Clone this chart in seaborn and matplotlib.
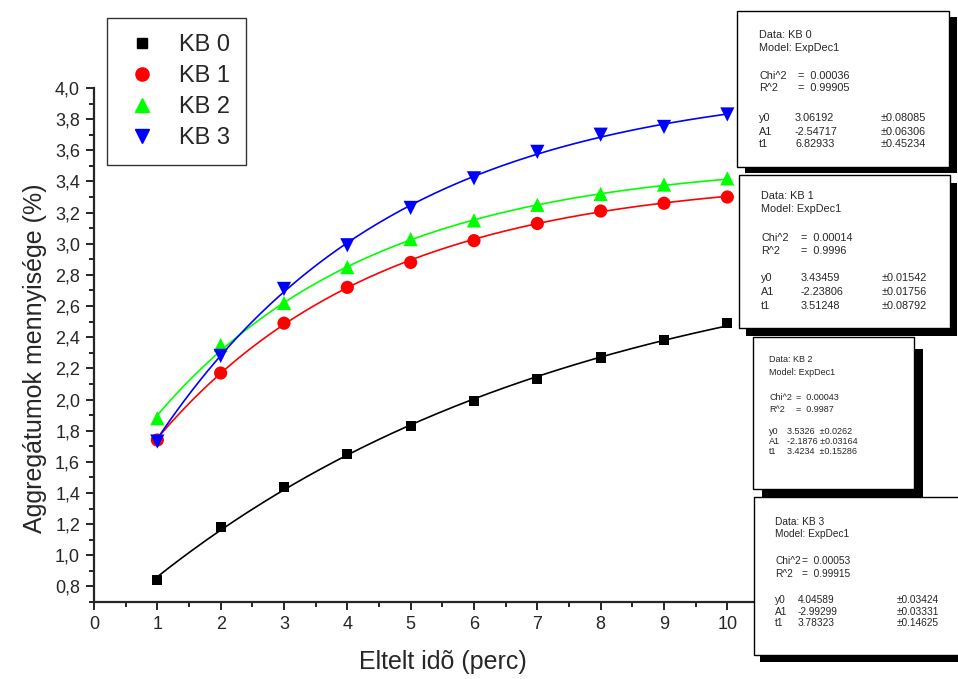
import numpy as np
import pandas as pd
import seaborn as sns
import matplotlib.pyplot as plt
from matplotlib.patches import Rectangle
from matplotlib.lines import Line2D
from matplotlib.ticker import MultipleLocator, FuncFormatter

# measured values
perc = [1, 2, 3, 4, 5, 6, 7, 8, 9, 10]
kb0 = [0.84, 1.18, 1.44, 1.65, 1.83, 1.99, 2.13, 2.27, 2.38, 2.49]
kb1 = [1.74, 2.17, 2.49, 2.72, 2.88, 3.02, 3.13, 3.21, 3.26, 3.30]
kb2 = [1.88, 2.35, 2.62, 2.85, 3.03, 3.15, 3.25, 3.32, 3.38, 3.42]
kb3 = [1.73, 2.28, 2.71, 2.99, 3.23, 3.42, 3.59, 3.70, 3.75, 3.83]

series = ["KB 0", "KB 1", "KB 2", "KB 3"]
colors = ["#000000", "#FF0000", "#00FF00", "#0000FF"]
markers = ["s", "o", "^", "v"]
marker_area = [55, 90, 105, 105]

# ExpDec1 fit parameters (y0, A1, t1) as printed in the boxes
fit_y0 = [3.06192, 3.43459, 3.5326, 4.04589]
fit_A1 = [-2.54717, -2.23806, -2.1876, -2.99299]
fit_t1 = [6.82933, 3.51248, 3.4234, 3.78323]
fit_chi2 = ["0.00036", "0.00014", "0.00043", "0.00053"]
fit_r2 = ["0.99905", "0.9996", "0.9987", "0.99915"]
err_y0 = ["0.08085", "0.01542", "0.0262", "0.03424"]
err_A1 = ["0.06306", "0.01756", "0.03164", "0.03331"]
err_t1 = ["0.45234", "0.08792", "0.15286", "0.14625"]

sns.set_style("ticks")
plt.rcParams['font.family'] = ['Liberation Sans', 'DejaVu Sans']

W, H = 958, 679
fig = plt.figure(figsize=(W / 100, H / 100), dpi=100)
ax = fig.add_axes([94 / W, 1 - 602 / H, (759 - 94) / W, (602 - 88) / H])

points = pd.DataFrame({
    "perc": perc * 4,
    "value": kb0 + kb1 + kb2 + kb3,
    "series": [s for s in series for _ in perc],
})

xs = np.linspace(1, 10, 200)
curves = []
for name, y0, a1, t1 in zip(series, fit_y0, fit_A1, fit_t1):
    curves.append(pd.DataFrame({"perc": xs, "value": y0 + a1 * np.exp(-xs / t1), "series": name}))
curves = pd.concat(curves)

sns.lineplot(data=curves, x="perc", y="value", hue="series", palette=colors,
             linewidth=1.2, legend=False, ax=ax, zorder=2)
sns.scatterplot(data=points, x="perc", y="value", hue="series", style="series",
                size="series", sizes=dict(zip(series, marker_area)),
                palette=colors, markers=markers, edgecolor="none",
                legend=False, ax=ax, zorder=3, clip_on=False)

ax.set_xlim(0, 10.5)
ax.set_ylim(0.7, 4.0)
ax.xaxis.set_major_locator(MultipleLocator(1))
ax.xaxis.set_minor_locator(MultipleLocator(0.5))
ax.yaxis.set_major_locator(MultipleLocator(0.2))
ax.yaxis.set_minor_locator(MultipleLocator(0.1))
ax.yaxis.set_major_formatter(FuncFormatter(lambda v, p: f"{v:.1f}".replace(".", ",") if v > 0.75 else ""))
ax.tick_params(which="major", length=6, width=1.4, labelsize=13, pad=4)
ax.tick_params(which="minor", length=3.5, width=1.4)
for side in ["top", "right"]:
    ax.spines[side].set_visible(False)
for side in ["left", "bottom"]:
    ax.spines[side].set_linewidth(1.6)
ax.set_xlabel("Eltelt idõ (perc)", fontsize=18)
ax.set_ylabel("Aggregátumok mennyisége (%)", fontsize=18)
ax.xaxis.set_label_coords((443 - 94) / 665, -(662 - 602) / 514)
ax.yaxis.set_label_coords(-(94 - 35) / 665, (602 - 358) / 514)
ax.xaxis.label.set_va("center")
ax.yaxis.label.set_va("center")

handles = [Line2D([], [], linestyle="none", marker=m, color=c, markersize=np.sqrt(a))
           for m, c, a in zip(markers, colors, marker_area)]
leg = fig.legend(handles, series, loc="upper left", bbox_to_anchor=(107 / W, 1 - 18 / H),
                 frameon=True, fancybox=False, fontsize=17, handletextpad=0.75,
                 labelspacing=0.38, borderpad=0.68, handlelength=1.6, borderaxespad=0)
leg.get_frame().set_edgecolor("#000000")
leg.get_frame().set_linewidth(1.0)


def px(x, y):
    return x / W, 1 - y / H


def fit_box(i, left, top, right, bottom, sdx, sdy, fs, rows, cols, joined=False):
    shadow = Rectangle(px(left + sdx, bottom + sdy), (right - left) / W, (bottom - top) / H,
                       transform=fig.transFigure, facecolor="black", edgecolor="none", zorder=10)
    box = Rectangle(px(left, bottom), (right - left) / W, (bottom - top) / H,
                    transform=fig.transFigure, facecolor="white", edgecolor="black",
                    linewidth=1.0, zorder=11)
    fig.add_artist(shadow)
    fig.add_artist(box)
    xl, xv, xe, xq = cols
    kw = dict(transform=fig.transFigure, fontsize=fs, va="center", ha="left", zorder=12)
    fig.text(*px(xl, rows[0]), f"Data: {series[i]}", **kw)
    fig.text(*px(xl, rows[1]), "Model: ExpDec1", **kw)
    fig.text(*px(xl, rows[2]), "Chi^2", **kw)
    fig.text(*px(xq, rows[2]), f"=  {fit_chi2[i]}", **kw)
    fig.text(*px(xl, rows[3]), "R^2", **kw)
    fig.text(*px(xq, rows[3]), f"=  {fit_r2[i]}", **kw)
    for r, lab, val, err in zip(rows[4:], ["y0", "A1", "t1"],
                                [fit_y0[i], fit_A1[i], fit_t1[i]],
                                [err_y0[i], err_A1[i], err_t1[i]]):
        fig.text(*px(xl, r), lab, **kw)
        if joined:
            gap = "  " if val > 0 else " "
            fig.text(*px(xv, r), f"{val}{gap}±{err}", **kw)
        else:
            fig.text(*px(xv, r), f"{val}", **kw)
            fig.text(*px(xe, r), f"±{err}", **kw)


fit_box(0, 737, 11, 949, 167, 8, 6, 7.8,
        [35, 48, 76, 88, 118, 132, 144], (759, 795, 881, 798))
fit_box(1, 739, 175, 950, 328, 7, 8, 7.8,
        [196, 209, 238, 251, 278, 292, 306], (761, 801, 882, 801))
fit_box(2, 753, 337, 914, 489, 9, 12, 6.5,
        [360, 372, 398, 410, 432, 442, 452], (769, 787, 808, 796), joined=True)
fit_box(3, 754, 497, 970, 655, 6, 7, 7.3,
        [522, 534, 561, 574, 600, 612, 623], (775, 798, 897, 802))

fig.savefig("out.png", dpi=100)
